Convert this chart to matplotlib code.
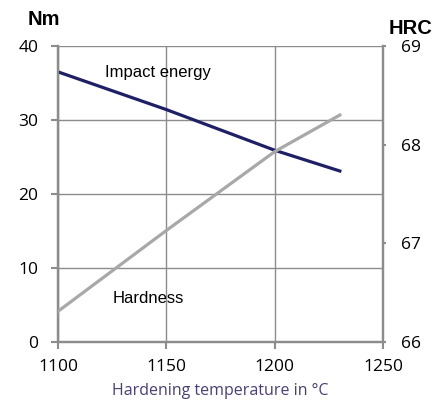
import matplotlib
matplotlib.use("Agg")
import matplotlib.pyplot as plt

# Data
temperature = [1100, 1150, 1200, 1230]
impact_energy = [36.5, 31.4, 25.9, 23.1]   # Nm
hardness = [66.31, 67.13, 67.93, 68.30]    # HRC

x_ticks = [1100, 1150, 1200, 1250]
nm_ticks = [0, 10, 20, 30, 40]
hrc_ticks = [66, 67, 68, 69]

# tick labels in Open Sans, other text in an Arial look-alike
plt.rcParams["font.family"] = ["Open Sans", "DejaVu Sans"]
arial = ["Liberation Sans", "DejaVu Sans"]

grid_col = "#8c8c8c"

fig = plt.figure(figsize=(4.43, 4.07), dpi=100)
ax = fig.add_axes([0.131, 0.16, 0.734, 0.727])
ax2 = ax.twinx()

ax.plot(temperature, impact_energy, color="#1f1f66", lw=2.3, zorder=3)
ax2.plot(temperature, hardness, color="#a8a8a8", lw=2.3, zorder=3)

ax.set_xlim(1100, 1250)
ax.set_ylim(0, 40)
ax2.set_ylim(66, 69)
ax.set_xticks(x_ticks)
ax.set_yticks(nm_ticks)
ax2.set_yticks(hrc_ticks)

ax.grid(True, color=grid_col, lw=1)
for a in (ax, ax2):
    for s in a.spines.values():
        s.set_color(grid_col)
        s.set_linewidth(1.6)
    a.spines["top"].set_visible(False)
    a.tick_params(colors=grid_col, labelcolor="black", labelsize=12.5,
                  width=1.5, direction="out")
ax.tick_params(axis="y", length=5, pad=9)
ax.tick_params(axis="x", length=5, pad=7)
ax2.tick_params(axis="y", length=2.5, pad=10)

ax.text(1121.5, 36.4, "Impact energy", fontsize=12, va="center", family=arial)
ax.text(1125, 5.9, "Hardness", fontsize=12, va="center", family=arial)

fig.text(0.098, 0.953, "Nm", fontsize=14.5, fontweight="bold", ha="center",
         va="center", family=arial)
fig.text(0.926, 0.93, "HRC", fontsize=14.5, fontweight="bold", ha="center",
         va="center", family=arial)

ax.set_xlabel("Hardening temperature in °C", fontsize=11.5, color="#4b3f72",
              labelpad=6)

fig.savefig("out.png", dpi=100)
